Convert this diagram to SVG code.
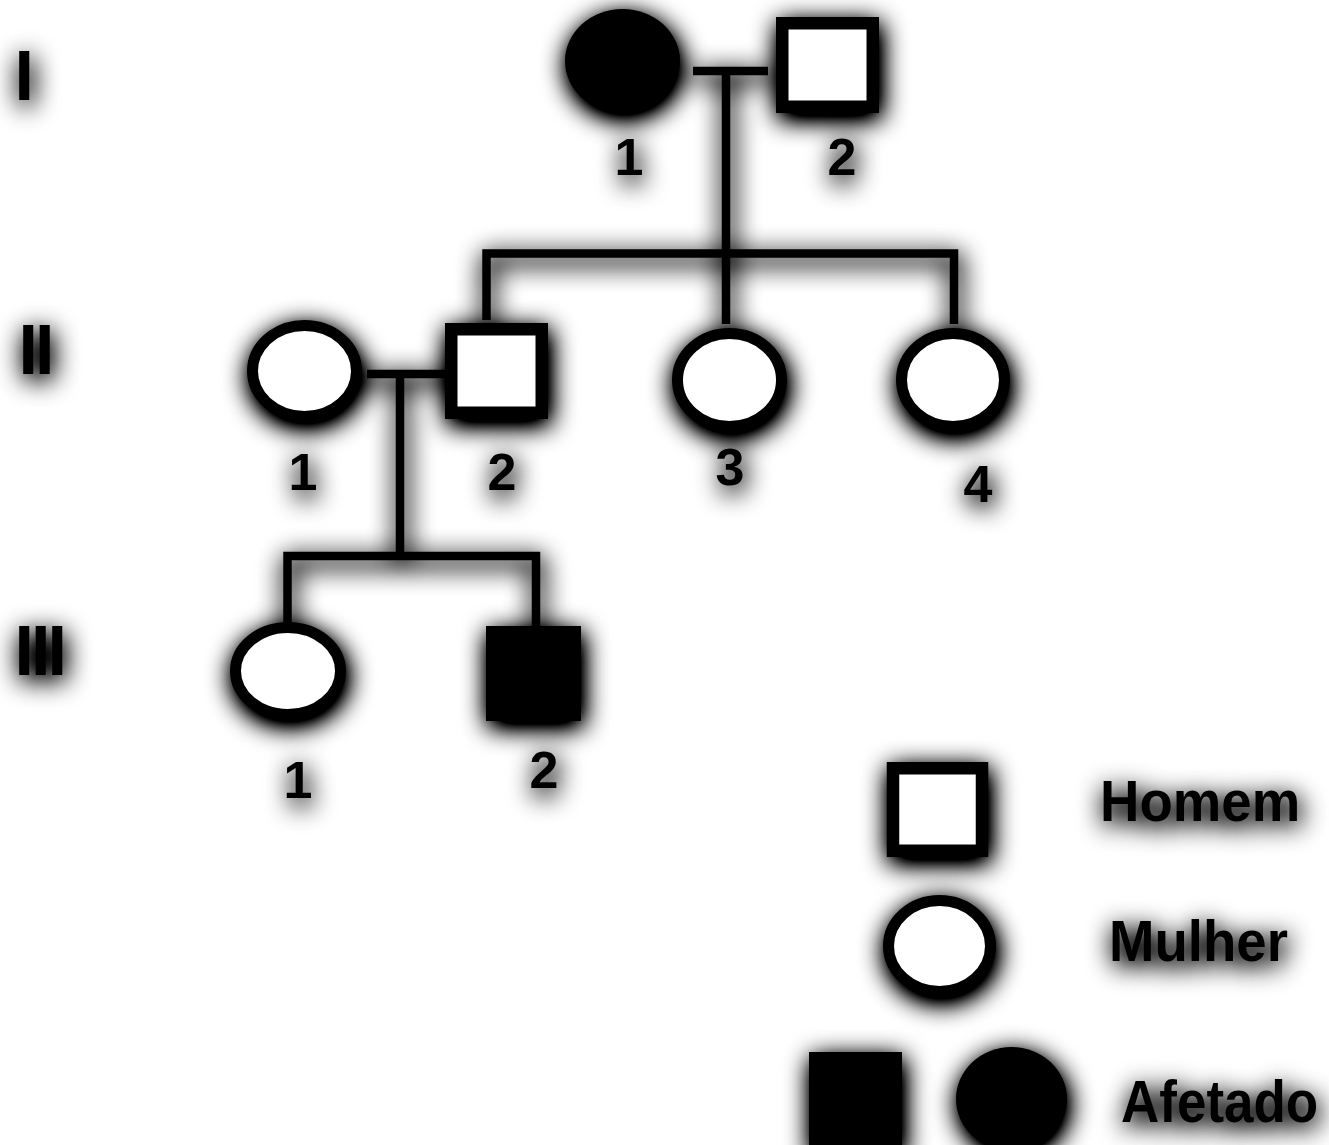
<svg xmlns="http://www.w3.org/2000/svg" width="1329" height="1145" viewBox="0 0 1329 1145">
<style>
.t{font-family:"Liberation Sans",Arial,sans-serif;font-weight:bold;fill:#000}
.num{font-size:52px;text-anchor:middle}
.gen{font-size:70px;letter-spacing:-3px}
.leg{font-size:53px}
.f{fill:#fff;stroke:#000;stroke-width:11}
.sq{fill:#fff;stroke:#000;stroke-width:12.5}
.a{fill:#000}
.ln{fill:none;stroke:#000;stroke-width:8.5;stroke-linejoin:miter;stroke-linecap:butt}
</style>
<defs>
<filter id="sh" x="-10%" y="-10%" width="120%" height="120%">
<feGaussianBlur in="SourceAlpha" stdDeviation="13"/>
<feOffset dx="2" dy="6"/>
<feComponentTransfer><feFuncA type="linear" slope="1.7"/></feComponentTransfer>
<feMerge><feMergeNode/><feMergeNode in="SourceGraphic"/></feMerge>
</filter>
</defs>
<rect width="1329" height="1145" fill="#fff"/>
<g filter="url(#sh)">
<g id="connectors">
<path class="ln" d="M693,71 H768"/>
<path class="ln" d="M726,75 V324"/>
<path class="ln" d="M486.5,320 V253.5 H954 V324"/>
<path class="ln" d="M367,374 H445"/>
<path class="ln" d="M400,378 V556"/>
<path class="ln" d="M287.5,623 V556 H536 V626"/>
</g>
<g id="gen-labels">
<text class="t gen" x="14.5" y="100">I</text>
<text class="t gen" x="18.5" y="374">II</text>
<text class="t gen" x="14.5" y="675">III</text>
</g>
<g id="I-1"><ellipse class="a" cx="622.5" cy="61" rx="57.5" ry="52"/><text class="t num" x="629" y="175">1</text></g>
<g id="I-2"><rect class="sq" x="782.25" y="23.25" width="90.5" height="83.5"/><text class="t num" x="842" y="175">2</text></g>
<g id="II-1"><ellipse class="f" cx="304.5" cy="371" rx="52" ry="45.5"/><text class="t num" x="303" y="490">1</text></g>
<g id="II-2"><rect class="sq" x="451.25" y="329.25" width="90.5" height="83.5"/><text class="t num" x="502" y="490">2</text></g>
<g id="II-3"><ellipse class="f" cx="729.5" cy="380" rx="52" ry="46.5"/><text class="t num" x="730" y="485">3</text></g>
<g id="II-4"><ellipse class="f" cx="953" cy="380" rx="51.5" ry="46.5"/><text class="t num" x="978" y="502">4</text></g>
<g id="III-1"><ellipse class="f" cx="288" cy="671" rx="52.5" ry="43.5"/><text class="t num" x="298" y="798">1</text></g>
<g id="III-2"><rect class="a" x="486" y="626" width="95" height="95"/><text class="t num" x="544" y="788">2</text></g>
<g id="legend-homem"><rect class="sq" x="893" y="768.25" width="89" height="82.5"/><text class="t leg" transform="translate(1100,821) scale(1.03,1.1)">Homem</text></g>
<g id="legend-mulher"><ellipse class="f" cx="939.5" cy="946" rx="51" ry="45.5"/><text class="t leg" transform="translate(1109,961) scale(1.03,1.1)">Mulher</text></g>
<g id="legend-afetado"><rect class="a" x="809" y="1052" width="93" height="100"/><ellipse class="a" cx="1011.5" cy="1099" rx="55.5" ry="52"/><text class="t leg" transform="translate(1121,1122) scale(1,1.1)">Afetado</text></g>
</g>
</svg>
